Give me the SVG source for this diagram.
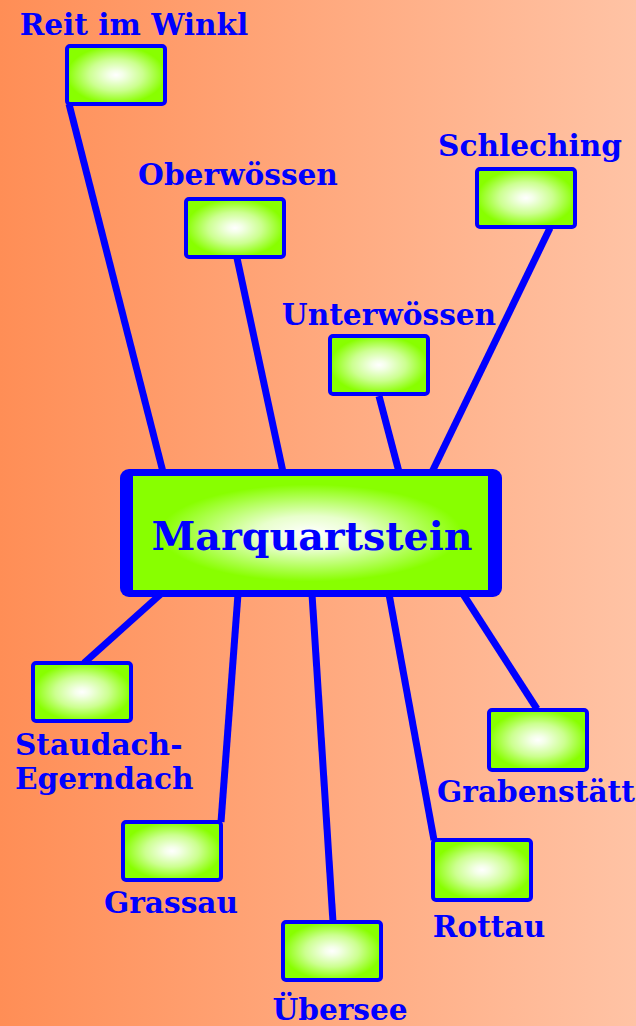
<svg xmlns="http://www.w3.org/2000/svg" width="636" height="1026" viewBox="0 0 636 1026">
<defs>
<linearGradient id="bg" x1="0" y1="0" x2="1" y2="0">
<stop offset="0" stop-color="#FF8E56"/>
<stop offset="1" stop-color="#FFC3A5"/>
</linearGradient>
<radialGradient id="nodefill" cx="0.5" cy="0.5" r="0.5">
<stop offset="0" stop-color="#FFFFFF"/>
<stop offset="0.15" stop-color="#F4FFE8"/>
<stop offset="0.55" stop-color="#CCFF90"/>
<stop offset="1" stop-color="#88FF00"/>
</radialGradient>
<radialGradient id="mainfill" cx="0.5" cy="0.5" r="0.5">
<stop offset="0" stop-color="#FFFFFF"/>
<stop offset="0.3" stop-color="#E8FFCC"/>
<stop offset="0.85" stop-color="#88FF00"/>
<stop offset="1" stop-color="#88FF00"/>
</radialGradient>
</defs>
<style>
.box{fill:url(#nodefill);stroke:#0000FF;stroke-width:4}
.lbl{font-family:"DejaVu Serif","Liberation Serif",serif;font-weight:bold;font-size:29.6px;fill:#0000FF}
.main{font-family:"DejaVu Serif","Liberation Serif",serif;font-weight:bold;font-size:39.6px;fill:#0000FF}
.conn line{stroke:#0000FF;stroke-width:7}
</style>
<rect x="0" y="0" width="636" height="1026" fill="url(#bg)"/>
<g id="connectors" class="conn">
<line x1="69" y1="104" x2="163" y2="472"/>
<line x1="237" y1="258" x2="283" y2="472"/>
<line x1="379" y1="396" x2="399" y2="472"/>
<line x1="550" y1="228" x2="432" y2="472"/>
<line x1="84" y1="663" x2="162" y2="593"/>
<line x1="221" y1="822" x2="238" y2="594"/>
<line x1="333" y1="922" x2="312" y2="594"/>
<line x1="434" y1="840" x2="389" y2="594"/>
<line x1="537" y1="709" x2="463" y2="594"/>
</g>
<g id="marquartstein">
<rect x="120" y="469" width="382" height="128" rx="9" fill="#0000FF"/>
<rect x="133" y="476" width="355" height="114" fill="url(#mainfill)"/>
<text class="main" x="312" y="550" text-anchor="middle">Marquartstein</text>
</g>
<g id="reit-im-winkl">
<rect class="box" x="67" y="46" width="98" height="58" rx="3"/>
<text class="lbl" x="134" y="35" text-anchor="middle">Reit im Winkl</text>
</g>
<g id="oberwoessen">
<rect class="box" x="186" y="199" width="98" height="58" rx="3"/>
<text class="lbl" x="238" y="185" text-anchor="middle">Oberwössen</text>
</g>
<g id="schleching">
<rect class="box" x="477" y="169" width="98" height="58" rx="3"/>
<text class="lbl" x="530" y="156" text-anchor="middle">Schleching</text>
</g>
<g id="unterwoessen">
<rect class="box" x="330" y="336" width="98" height="58" rx="3"/>
<text class="lbl" x="389" y="325" text-anchor="middle">Unterwössen</text>
</g>
<g id="staudach-egerndach">
<rect class="box" x="33" y="663" width="98" height="58" rx="3"/>
<text class="lbl" x="15" y="755">Staudach-</text>
<text class="lbl" x="15" y="789">Egerndach</text>
</g>
<g id="grassau">
<rect class="box" x="123" y="822" width="98" height="58" rx="3"/>
<text class="lbl" x="171" y="913" text-anchor="middle">Grassau</text>
</g>
<g id="uebersee">
<rect class="box" x="283" y="922" width="98" height="58" rx="3"/>
<text class="lbl" x="340" y="1020" text-anchor="middle">Übersee</text>
</g>
<g id="rottau">
<rect class="box" x="433" y="840" width="98" height="60" rx="3"/>
<text class="lbl" x="489" y="937" text-anchor="middle">Rottau</text>
</g>
<g id="grabenstaett">
<rect class="box" x="489" y="710" width="98" height="60" rx="3"/>
<text class="lbl" x="536" y="802" text-anchor="middle">Grabenstätt</text>
</g>
</svg>
